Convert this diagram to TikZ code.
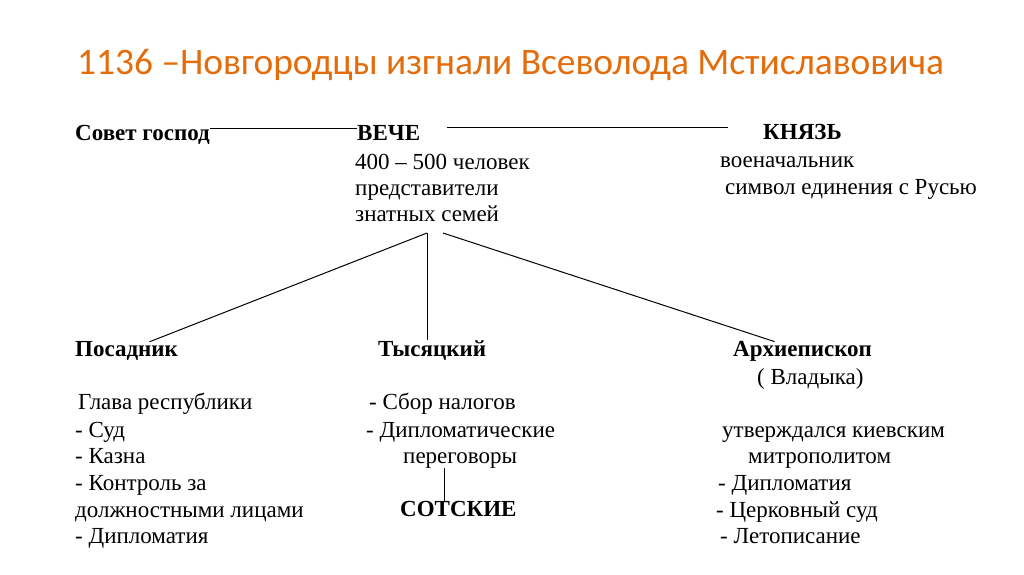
\documentclass[tikz,border=0pt]{standalone}
\usepackage{fontspec}
\setmainfont{Liberation Serif}
\newfontfamily\titlefont{Carlito}
\usetikzlibrary{positioning}
\definecolor{titleorange}{HTML}{E46C0A}
\tikzset{
  txt/.style={anchor=base west, inner sep=0pt, font=\fontsize{23}{26}\selectfont},
  head/.style={txt, font=\fontsize{23}{26}\selectfont\bfseries},
  link/.style={line width=1pt}
}
\begin{document}
\begin{tikzpicture}[x=1pt, y=-1pt]
  \useasboundingbox[fill=white] (0,0) rectangle (1024,574);

  % Title
  \node[anchor=base west, inner sep=0pt, text=titleorange, font=\titlefont\fontsize{37.4}{40}\selectfont] (title) at (77,74) {1136 –Новгородцы изгнали Всеволода Мстиславовича};

  % Top row
  \node[head] (sovet) at (75,140) {Совет господ};
  \node[head] (veche) at (357,140) {ВЕЧЕ};
  \node[head] (knyaz) at (763,139) {КНЯЗЬ};

  \node[txt] (people) at (355,169) {400 – 500 человек};
  \node[txt] (repr) at (355,195) {представители};
  \node[txt] (families) at (355,221) {знатных семей};

  \node[txt] (voen) at (720,167) {военачальник};
  \node[txt] (symbol) at (725,194) {символ единения с Русью};

  % Second row
  \node[head] (posadnik) at (75,356) {Посадник};
  \node[head] (tys) at (378,356) {Тысяцкий};
  \node[head] (arkh) at (733,356) {Архиепископ};
  \node[txt] (vladyka) at (757,384) {( Владыка)};

  % Posadnik duties
  \node[txt] (glava) at (78,409) {Глава республики};
  \node[txt] (sud) at (75,437) {- Суд};
  \node[txt] (kazna) at (75,463) {- Казна};
  \node[txt] (kontrol) at (75,490) {- Контроль за};
  \node[txt] (lica) at (75,517) {должностными лицами};
  \node[txt] (dipl1) at (75,543) {- Дипломатия};

  % Tysyatsky duties
  \node[txt] (sbor) at (369,409) {- Сбор налогов};
  \node[txt] (dipl2) at (366,437) {- Дипломатические};
  \node[txt] (perego) at (403,463) {переговоры};
  \node[head] (sotskie) at (400,516) {СОТСКИЕ};

  % Arkhiepiskop duties
  \node[txt] (utv) at (722,437) {утверждался киевским};
  \node[txt] (mitr) at (748,463) {митрополитом};
  \node[txt] (dipl3) at (718,490) {- Дипломатия};
  \node[txt] (cerk) at (716,517) {- Церковный суд};
  \node[txt] (leto) at (720,543) {- Летописание};

  % Connectors
  \coordinate (forkl) at (427,233);
  \coordinate (forkr) at (443,233);
  \draw[link] ([yshift=12pt]sovet.base east) -- ([yshift=12pt]veche.base west);
  \draw[link, shorten <=27pt, shorten >=35pt] ([yshift=13pt]veche.base east) -- ([yshift=12pt]knyaz.base west);
  \draw[link] (forkl) -- ([xshift=23pt, yshift=-1pt]posadnik.north);
  \draw[link] (forkl) -- (forkl |- tys.north);
  \draw[link] (forkr) -- ([xshift=-28pt, yshift=-1pt]arkh.north);
  \draw[link] ([xshift=-16pt]perego.south) -- ([xshift=-16pt]perego.south |- sotskie.north);
\end{tikzpicture}
\end{document}
